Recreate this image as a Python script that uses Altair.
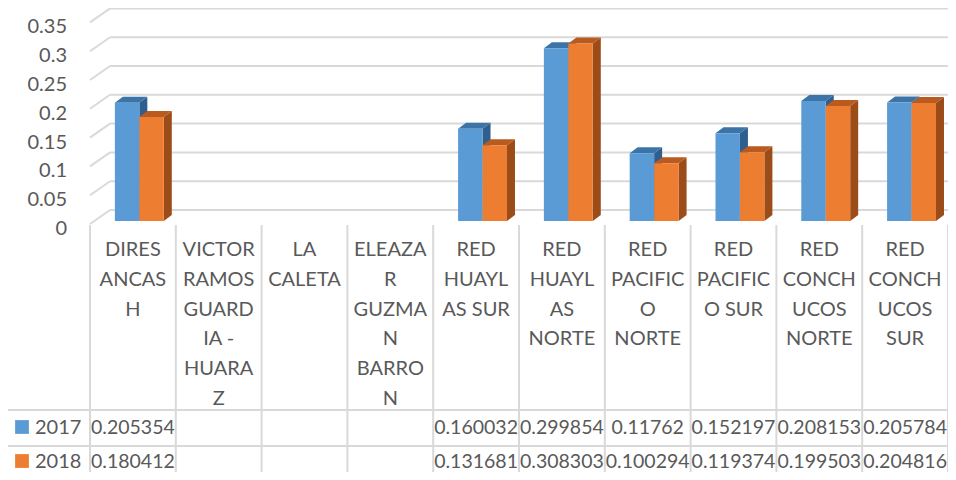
import altair as alt
import pandas as pd

# ---------------- data ----------------
categories = ["DIRES ANCASH", "VICTOR RAMOS GUARDIA - HUARAZ", "LA CALETA",
              "ELEAZAR GUZMAN BARRON", "RED HUAYLAS SUR", "RED HUAYLAS NORTE",
              "RED PACIFICO NORTE", "RED PACIFICO SUR", "RED CONCHUCOS NORTE",
              "RED CONCHUCOS SUR"]
category_labels = ["DIRES\nANCAS\nH", "VICTOR\nRAMOS\nGUARD\nIA -\nHUARA\nZ", "LA\nCALETA",
                   "ELEAZA\nR\nGUZMA\nN\nBARRO\nN", "RED\nHUAYL\nAS SUR",
                   "RED\nHUAYL\nAS\nNORTE", "RED\nPACIFIC\nO\nNORTE", "RED\nPACIFIC\nO SUR",
                   "RED\nCONCH\nUCOS\nNORTE", "RED\nCONCH\nUCOS\nSUR"]
years = ["2017", "2018"]
values_2017 = [0.205354, None, None, None, 0.160032, 0.299854, 0.11762, 0.152197, 0.208153, 0.205784]
values_2018 = [0.180412, None, None, None, 0.131681, 0.308303, 0.100294, 0.119374, 0.199503, 0.204816]
y_ticks = [0, 0.05, 0.1, 0.15, 0.2, 0.25, 0.3, 0.35]
y_tick_labels = ["0", "0.05", "0.1", "0.15", "0.2", "0.25", "0.3", "0.35"]

front_colors = ["#5B9BD5", "#ED7D31"]
top_colors = ["#3D74A8", "#B95B1E"]
side_colors = ["#2F5F8E", "#9C4C18"]

# ---------------- layout constants ----------------
W, H = 940, 464
CAT_W = 85.8          # px per category
X_ORIGIN = 82         # view px of first category boundary
Y_PER = 576           # px per unit value
Y_ORIGIN = 213        # view px of value 0 (front plane)
XS = alt.Scale(domain=[-X_ORIGIN / CAT_W, (W - X_ORIGIN) / CAT_W], nice=False, zero=False)
YS = alt.Scale(domain=[(Y_ORIGIN - H) / Y_PER, Y_ORIGIN / Y_PER], nice=False, zero=False)
DX = 8 / CAT_W
DY = 6 / Y_PER
FONT = "Lato"
TXT = "#595959"
GRID = "#D9D9D9"

rows = []
for i, c in enumerate(categories):
    for yr, vals in zip(years, [values_2017, values_2018]):
        v = vals[i]
        if v is not None:
            rows.append({"category": c, "idx": i, "year": yr, "value": v,
                         "label": str(v), "bar": f"{i}-{yr}"})
bars = pd.DataFrame(rows)
cats = pd.DataFrame({"idx": list(range(len(categories))), "lab": category_labels})
bounds = pd.DataFrame({"u": list(range(len(categories) + 1))})
grid = pd.DataFrame({"v": y_ticks, "lab": y_tick_labels})
yr_df = pd.DataFrame({"year": years})

base = alt.Chart(bars).transform_calculate(
    x0="datum.idx + (datum.year == '2017' ? 0.29 : 0.575)",
    x1="datum.idx + (datum.year == '2017' ? 0.575 : 0.86)",
)

# gridlines (back wall)
grid_back = alt.Chart(grid).mark_rule(color=GRID, strokeWidth=2, yOffset=-11).encode(
    x=alt.value(102), x2=alt.value(W),
    y=alt.Y("v:Q", scale=YS, axis=None),
)
grid_diag = alt.Chart(grid).mark_rule(color=GRID, strokeWidth=2, yOffset=3, y2Offset=-11).encode(
    x=alt.value(82), x2=alt.value(102),
    y=alt.Y("v:Q", scale=YS, axis=None), y2="v:Q",
)
ylabels = alt.Chart(grid).mark_text(align="right", baseline="middle", font=FONT,
                                     fontSize=20, color=TXT, yOffset=8).encode(
    x=alt.value(59), y=alt.Y("v:Q", scale=YS, axis=None), text="lab:N")

# bar faces
sides = base.transform_calculate(
    px=f"[datum.x1, datum.x1 + {DX}]",
    py=f"[datum.value, datum.value + {DY}]",
    py2=f"[0, {DY}]",
).transform_flatten(["px", "py", "py2"]).mark_area(orient="vertical").encode(
    x=alt.X("px:Q", scale=XS, axis=None),
    y=alt.Y("py:Q", scale=YS, axis=None, stack=None), y2="py2:Q",
    detail="bar:N",
    color=alt.Color("year:N", scale=alt.Scale(domain=years, range=side_colors), legend=None),
)
tops = base.transform_calculate(
    px=f"[datum.x0, datum.x0 + {DX}, datum.x1, datum.x1 + {DX}]",
    py=f"[datum.value, datum.value + {DY}, datum.value + {DY}, datum.value + {DY}]",
    py2="[datum.value, datum.value, datum.value, datum.value + %f]" % DY,
).transform_flatten(["px", "py", "py2"]).mark_area(orient="vertical").encode(
    x=alt.X("px:Q", scale=XS, axis=None),
    y=alt.Y("py:Q", scale=YS, axis=None, stack=None), y2="py2:Q",
    detail="bar:N",
    color=alt.Color("year:N", scale=alt.Scale(domain=years, range=top_colors), legend=None),
)
fronts = base.mark_rect().encode(
    x=alt.X("x0:Q", scale=XS, axis=None), x2="x1:Q",
    y=alt.Y("value:Q", scale=YS, axis=None), y2=alt.datum(0),
    color=alt.Color("year:N", scale=alt.Scale(domain=years, range=front_colors), legend=None),
)

# category label table
seps = alt.Chart(bounds).mark_rule(color=GRID, strokeWidth=2).encode(
    x=alt.X("u:Q", scale=XS, axis=None), y=alt.value(217), y2=alt.value(H))
catlab = alt.Chart(cats).transform_calculate(xc="datum.idx + 0.5").mark_text(
    align="center", baseline="top", font=FONT, fontSize=20, color=TXT,
    lineBreak="\n", lineHeight=29.8).encode(
    x=alt.X("xc:Q", scale=XS, axis=None), y=alt.value(232), text="lab:N")

hline1 = alt.Chart(yr_df).mark_rule(color=GRID, strokeWidth=2).encode(
    x=alt.value(0), x2=alt.value(W), y=alt.value(402))
hline2 = alt.Chart(yr_df).mark_rule(color=GRID, strokeWidth=2).encode(
    x=alt.value(0), x2=alt.value(W), y=alt.value(438))

row_y = {"2017": 420, "2018": 454}
table_layers = []
for k, yr in enumerate(years):
    table_layers.append(
        alt.Chart(yr_df).transform_filter(f"datum.year == '{yr}'").mark_square(
            size=190, opacity=1, color=front_colors[k]).encode(
            x=alt.value(14), y=alt.value(row_y[yr] - 1)))
    table_layers.append(
        alt.Chart(yr_df).transform_filter(f"datum.year == '{yr}'").mark_text(
            align="left", baseline="middle", font=FONT, fontSize=20, color=TXT).encode(
            x=alt.value(27), y=alt.value(row_y[yr]), text="year:N"))
    table_layers.append(
        base.transform_filter(f"datum.year == '{yr}'").transform_calculate(
            xc="datum.idx + 0.5").mark_text(
            align="center", baseline="middle", font=FONT, fontSize=19.5, color=TXT).encode(
            x=alt.X("xc:Q", scale=XS, axis=None), y=alt.value(row_y[yr]), text="label:N"))

chart = alt.layer(
    grid_back, grid_diag, ylabels, sides, tops, fronts, seps, catlab, hline1, hline2,
    *table_layers
).resolve_scale(color="independent").properties(
    width=W, height=H, autosize=alt.AutoSizeParams(type="none"), padding=0
).configure_view(stroke=None)

chart.save("out.html", embed_options={"renderer": "svg", "actions": False})
